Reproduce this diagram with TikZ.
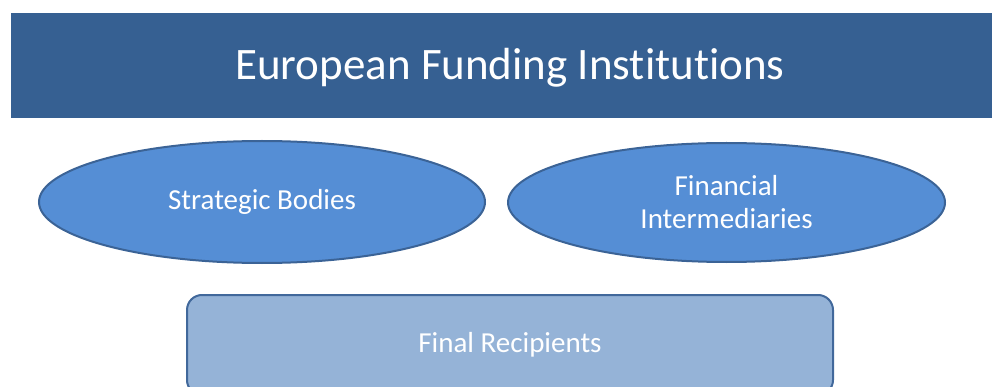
\documentclass[tikz,border=0pt]{standalone}
\usepackage{fontspec}
\setmainfont{Carlito}[Ligatures=CommonOff]
\usetikzlibrary{shapes.geometric}
\definecolor{barBlue}{HTML}{366092}
\definecolor{ellipseBlue}{HTML}{558ED5}
\definecolor{ellipseEdge}{HTML}{3B6396}
\definecolor{boxBlue}{HTML}{95B3D7}
\definecolor{boxEdge}{HTML}{41689B}
\begin{document}
\begin{tikzpicture}[%%
  x=1pt,y=-1pt,%%
  titleStyle/.style={inner sep=0pt,text=white,font=\fontsize{45}{50}\selectfont},%%
  ellipseStyle/.style={ellipse,fill=ellipseBlue,draw=ellipseEdge,line width=2pt,inner sep=0pt,text=white,align=center,font=\fontsize{29}{33}\selectfont},%%
  boxStyle/.style={rectangle,rounded corners=15pt,fill=boxBlue,draw=boxEdge,line width=2pt,minimum width=646pt,minimum height=100pt,inner sep=0pt,text=white,font=\fontsize{29}{33}\selectfont}%%
]
%%
\useasboundingbox (0,0) rectangle (992,387);
\clip (0,0) rectangle (992,387);
%%
%% Top bar.
\fill[barBlue] (11,13) rectangle (1001,118);
\node[titleStyle] (institutions) at (510,68) {European Funding Institutions};
%% The two bodies.
\node[ellipseStyle,minimum width=446pt,minimum height=122pt] (strategic) at (262,202) {Strategic Bodies};
\node[ellipseStyle,minimum width=437pt,minimum height=119pt] (intermediaries) at (726.5,202.5) {Financial\\Intermediaries};
%% Final recipients.
\node[boxStyle] (recipients) at (510,345) {Final Recipients};
\end{tikzpicture}
\end{document}
